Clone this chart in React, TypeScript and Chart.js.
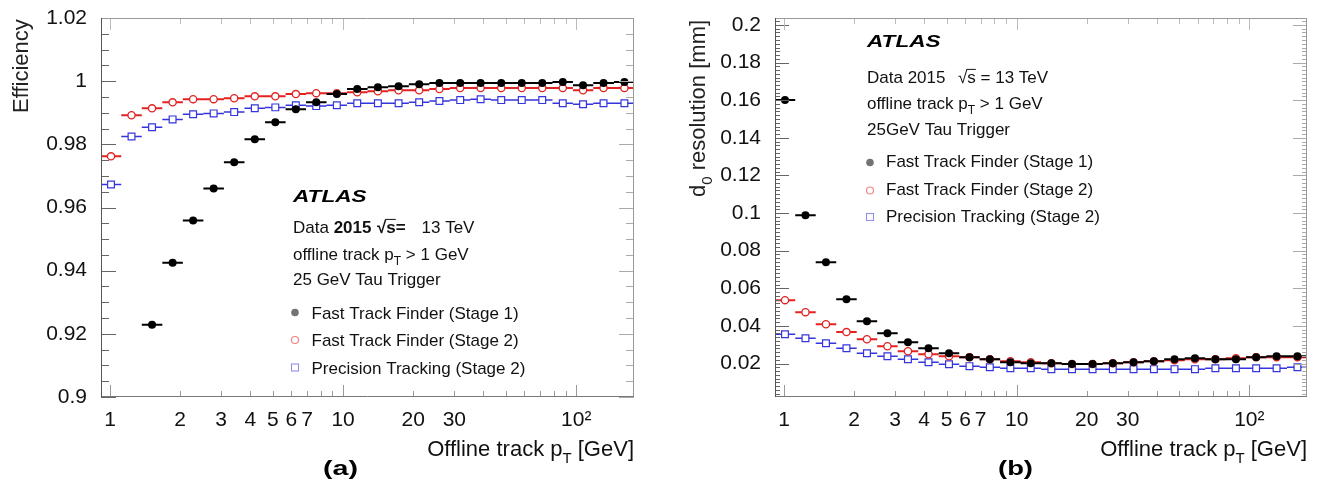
import React, { useEffect, useRef } from 'react';
import { Chart, registerables } from 'chart.js';

Chart.register(...registerables);

const FONT = '"Liberation Sans", Arial, Helvetica, sans-serif';

// Offline track pT bin centres [GeV]
const ptCenters = [1.01, 1.237, 1.515, 1.856, 2.273, 2.784, 3.41, 4.18, 5.12, 6.27, 7.67, 9.4, 11.5, 14.1, 17.3, 21.2, 25.9, 31.8, 38.9, 47.7, 58.4, 71.5, 87.6, 107, 131, 161];

// (a) efficiency
const effFTFStage1 = [null, null, 0.9229, 0.9425, 0.9559, 0.966, 0.9743, 0.9816, 0.987, 0.9911, 0.9933, 0.9959, 0.9975, 0.9981, 0.9984, 0.999, 0.9994, 0.9994, 0.9994, 0.9994, 0.9994, 0.9994, 0.9997, 0.9987, 0.9994, 0.9997];
const effFTFStage2 = [0.9762, 0.9892, 0.9914, 0.9933, 0.9943, 0.9943, 0.9946, 0.9952, 0.9952, 0.9959, 0.9962, 0.9962, 0.9965, 0.9968, 0.9971, 0.9971, 0.9975, 0.9978, 0.9978, 0.9978, 0.9978, 0.9978, 0.9978, 0.9971, 0.9978, 0.9978];
const effPrecision = [0.9673, 0.9825, 0.9854, 0.9879, 0.9895, 0.9898, 0.9902, 0.9914, 0.9917, 0.9924, 0.9921, 0.9924, 0.993, 0.993, 0.993, 0.9933, 0.9937, 0.994, 0.9943, 0.994, 0.994, 0.994, 0.993, 0.9927, 0.993, 0.993];

// (b) d0 resolution [mm]
const d0FTFStage1 = [0.1601, 0.0988, 0.0739, 0.0542, 0.0425, 0.0361, 0.0313, 0.0281, 0.0255, 0.0234, 0.0223, 0.0207, 0.0202, 0.0202, 0.0198, 0.0198, 0.0202, 0.0207, 0.0212, 0.0223, 0.0228, 0.0223, 0.0223, 0.0234, 0.0239, 0.0239];
const d0FTFStage2 = [0.0537, 0.0473, 0.0409, 0.0367, 0.0329, 0.0292, 0.0265, 0.0249, 0.0239, 0.0234, 0.0223, 0.0212, 0.0207, 0.0202, 0.0198, 0.0198, 0.0202, 0.0207, 0.0212, 0.0218, 0.0223, 0.0223, 0.0228, 0.0234, 0.0234, 0.0234];
const d0Precision = [0.0356, 0.0334, 0.0308, 0.0281, 0.0255, 0.0239, 0.0223, 0.0207, 0.0196, 0.0186, 0.018, 0.0175, 0.0175, 0.017, 0.017, 0.017, 0.017, 0.017, 0.017, 0.017, 0.017, 0.0175, 0.0175, 0.0175, 0.0175, 0.018];

const xTickValues = [1, 2, 3, 4, 5, 6, 7, 8, 9, 10, 20, 30, 40, 50, 60, 70, 80, 90, 100];
const xTickLabels: Record<string, string> = { '1': '1', '2': '2', '3': '3', '4': '4', '5': '5', '6': '6', '7': '7', '10': '10', '20': '20', '30': '30', '100': '10\u00B2' };
const effTickValues = [0.9, 0.92, 0.94, 0.96, 0.98, 1, 1.02];
const d0TickValues = [0.02, 0.04, 0.06, 0.08, 0.1, 0.12, 0.14, 0.16, 0.18, 0.2];
const legendLabels = ['Fast Track Finder (Stage 1)', 'Fast Track Finder (Stage 2)', 'Precision Tracking (Stage 2)'];

const BLACK = '#000000';
const RED = '#e32222';
const BLUE = '#3535dd';

type Seg = { t: string; sub?: boolean; bold?: boolean; italic?: boolean; over?: boolean };

function segFont(s: Seg, size: number) {
  const fs = s.sub ? Math.round(size * 0.68) : size;
  return `${s.italic ? 'italic ' : ''}${s.bold ? 'bold ' : ''}${fs}px ${FONT}`;
}
function measureRich(ctx: CanvasRenderingContext2D, segs: Seg[], size: number) {
  let w = 0;
  for (const s of segs) {
    ctx.font = segFont(s, size);
    w += ctx.measureText(s.t).width;
  }
  return w;
}
function drawRich(ctx: CanvasRenderingContext2D, x: number, y: number, segs: Seg[], size: number, color = '#111') {
  let cx = x;
  ctx.fillStyle = color;
  ctx.strokeStyle = color;
  ctx.textBaseline = 'alphabetic';
  ctx.textAlign = 'left';
  for (const s of segs) {
    ctx.font = segFont(s, size);
    const w = ctx.measureText(s.t).width;
    const dy = s.sub ? size * 0.3 : 0;
    ctx.fillText(s.t, cx, y + dy);
    if (s.over) {
      ctx.lineWidth = 1;
      ctx.beginPath();
      ctx.moveTo(cx - 1, y - size * 0.8);
      ctx.lineTo(cx + w, y - size * 0.8);
      ctx.stroke();
    }
    cx += w;
  }
  return cx - x;
}

function drawMarker(ctx: CanvasRenderingContext2D, kind: number, x: number, y: number, alpha = 1) {
  ctx.save();
  ctx.globalAlpha = alpha;
  if (kind === 0) {
    ctx.fillStyle = BLACK;
    ctx.beginPath();
    ctx.arc(x, y, 3.8, 0, Math.PI * 2);
    ctx.fill();
  } else if (kind === 1) {
    ctx.strokeStyle = RED;
    ctx.lineWidth = 1.2;
    ctx.beginPath();
    ctx.arc(x, y, 3.5, 0, Math.PI * 2);
    ctx.stroke();
  } else {
    ctx.strokeStyle = BLUE;
    ctx.lineWidth = 1.1;
    ctx.strokeRect(x - 3.5, y - 3.5, 7, 7);
  }
  ctx.restore();
}

type Line = { x: number; y: number; segs: Seg[] };
type DecorCfg = {
  series: { values: (number | null)[]; color: string; lw: number }[];
  yMajorStep: number;
  yMinorStep: number;
  yMajorLen: number;
  yMinorLen: number;
  yTitle: Seg[];
  yTitleX: number;
  yTitleBottom: number;
  xTitleBaseline: number;
  panel: string;
  panelX: number;
  atlasX: number;
  atlasBaseline: number;
  lines: Line[];
  legendMarkerX: number;
  legendTextX: number;
  legendBaselines: number[];
  legendMarkerYs: number[];
  legendAlpha: number;
};

function makeDecor(cfg: DecorCfg) {
  return {
    id: 'atlasDecor',
    beforeDatasetsDraw(chart: any) {
      const { ctx, chartArea: a, scales } = chart;
      const xs = scales.x;
      const ys = scales.y;
      const n = ptCenters.length;
      const edges: number[] = [];
      for (let i = 0; i <= n; i++) {
        if (i === 0) edges.push(ptCenters[0] / Math.sqrt(ptCenters[1] / ptCenters[0]));
        else if (i === n) edges.push(ptCenters[n - 1] * Math.sqrt(ptCenters[n - 1] / ptCenters[n - 2]));
        else edges.push(Math.sqrt(ptCenters[i - 1] * ptCenters[i]));
      }
      ctx.save();
      ctx.beginPath();
      ctx.rect(a.left, a.top, a.right - a.left, a.bottom - a.top);
      ctx.clip();
      const order = [...cfg.series].reverse();
      for (const s of order) {
        ctx.strokeStyle = s.color;
        ctx.lineWidth = s.lw;
        ctx.beginPath();
        s.values.forEach((v, i) => {
          if (v === null) return;
          const py = ys.getPixelForValue(v);
          ctx.moveTo(xs.getPixelForValue(edges[i]), py);
          ctx.lineTo(xs.getPixelForValue(edges[i + 1]), py);
        });
        ctx.stroke();
      }
      ctx.restore();
    },
    afterDatasetsDraw(chart: any) {
      const { ctx, chartArea: a, scales } = chart;
      const xs = scales.x;
      const ys = scales.y;
      ctx.save();
      // y ticks
      const kMin = Math.ceil(ys.min / cfg.yMinorStep - 1e-6);
      const kMax = Math.floor(ys.max / cfg.yMinorStep + 1e-6);
      for (let k = kMin; k <= kMax; k++) {
        const v = k * cfg.yMinorStep;
        const r = v / cfg.yMajorStep;
        const major = Math.abs(r - Math.round(r)) < 1e-6;
        const len = major ? cfg.yMajorLen : cfg.yMinorLen;
        const py = Math.round(ys.getPixelForValue(v)) + 0.5;
        ctx.lineWidth = 1;
        ctx.strokeStyle = '#666';
        ctx.beginPath();
        ctx.moveTo(a.left, py);
        ctx.lineTo(a.left + len, py);
        ctx.stroke();
        ctx.strokeStyle = '#aaa';
        ctx.beginPath();
        ctx.moveTo(a.right, py);
        ctx.lineTo(a.right - len, py);
        ctx.stroke();
      }
      // x ticks
      for (const d of [1, 10, 100]) {
        for (let m = 1; m <= 9; m++) {
          const v = m * d;
          if (v < xs.min || v > xs.max) continue;
          const len = m === 1 ? 12 : 6;
          const px = Math.round(xs.getPixelForValue(v)) + 0.5;
          ctx.strokeStyle = '#999';
          ctx.beginPath();
          ctx.moveTo(px, a.bottom);
          ctx.lineTo(px, a.bottom - len);
          ctx.stroke();
          ctx.strokeStyle = '#bbb';
          ctx.beginPath();
          ctx.moveTo(px, a.top);
          ctx.lineTo(px, a.top + len);
          ctx.stroke();
        }
      }
      // frame
      ctx.strokeStyle = '#999';
      ctx.beginPath();
      ctx.moveTo(a.left, a.top + 0.5);
      ctx.lineTo(a.right, a.top + 0.5);
      ctx.moveTo(a.right - 0.5, a.top);
      ctx.lineTo(a.right - 0.5, a.bottom);
      ctx.stroke();
      ctx.strokeStyle = '#777';
      ctx.beginPath();
      ctx.moveTo(a.left, a.bottom - 0.5);
      ctx.lineTo(a.right, a.bottom - 0.5);
      ctx.stroke();
      ctx.strokeStyle = '#555';
      ctx.beginPath();
      ctx.moveTo(a.left + 0.5, a.top);
      ctx.lineTo(a.left + 0.5, a.bottom);
      ctx.stroke();
      ctx.restore();
    },
    afterDraw(chart: any) {
      const { ctx, chartArea: a } = chart;
      ctx.save();
      // x-axis title (right aligned)
      const xTitle: Seg[] = [{ t: 'Offline track p' }, { t: 'T', sub: true }, { t: ' [GeV]' }];
      const wx = measureRich(ctx, xTitle, 22);
      drawRich(ctx, a.right - wx, cfg.xTitleBaseline, xTitle, 22, '#111');
      // y-axis title (rotated, end aligned at top)
      ctx.save();
      ctx.translate(cfg.yTitleX, cfg.yTitleBottom);
      ctx.rotate(-Math.PI / 2);
      drawRich(ctx, 0, 0, cfg.yTitle, 22, '#222');
      ctx.restore();
      // ATLAS label
      ctx.save();
      ctx.font = `italic bold 17px ${FONT}`;
      const wa = ctx.measureText('ATLAS').width;
      ctx.translate(cfg.atlasX, cfg.atlasBaseline);
      ctx.scale(73.5 / wa, 1);
      ctx.fillStyle = '#000';
      ctx.textBaseline = 'alphabetic';
      ctx.fillText('ATLAS', 0, 0);
      ctx.restore();
      // info lines
      for (const l of cfg.lines) drawRich(ctx, l.x, l.y, l.segs, 17, '#111');
      // legend
      legendLabels.forEach((lab, i) => {
        drawMarker(ctx, i, cfg.legendMarkerX, cfg.legendMarkerYs[i], cfg.legendAlpha);
        drawRich(ctx, cfg.legendTextX, cfg.legendBaselines[i], [{ t: lab }], 17, '#111');
      });
      // panel label
      ctx.save();
      ctx.font = `bold 21px ${FONT}`;
      const wp = ctx.measureText(cfg.panel).width;
      ctx.translate(cfg.panelX, 475);
      ctx.scale(35 / wp, 1);
      ctx.fillStyle = '#000';
      ctx.textBaseline = 'alphabetic';
      ctx.fillText(cfg.panel, 0, 0);
      ctx.restore();
      ctx.restore();
    },
  };
}

function pointsOf(values: (number | null)[]) {
  return ptCenters
    .map((x, i) => ({ x, y: values[i] }))
    .filter((p) => p.y !== null) as { x: number; y: number }[];
}

function fmtTick(v: number) {
  return String(Number(v.toFixed(3)));
}

function buildConfig(
  s1: (number | null)[],
  s2: (number | null)[],
  s3: (number | null)[],
  yMin: number,
  yMax: number,
  yTicks: number[],
  yWidth: number,
  rightPad: number,
  decor: DecorCfg
): any {
  return {
    type: 'scatter',
    data: {
      datasets: [
        {
          label: legendLabels[0],
          data: pointsOf(s1),
          pointStyle: 'circle',
          pointRadius: 4,
          pointBackgroundColor: BLACK,
          pointBorderColor: BLACK,
          pointBorderWidth: 0,
          showLine: false,
        },
        {
          label: legendLabels[1],
          data: pointsOf(s2),
          pointStyle: 'circle',
          pointRadius: 3.6,
          pointBackgroundColor: '#ffffff',
          pointBorderColor: RED,
          pointBorderWidth: 1.3,
          showLine: false,
        },
        {
          label: legendLabels[2],
          data: pointsOf(s3),
          pointStyle: 'rect',
          pointRadius: 4.8,
          pointBackgroundColor: '#ffffff',
          pointBorderColor: BLUE,
          pointBorderWidth: 1.2,
          showLine: false,
        },
      ],
    },
    options: {
      animation: false,
      responsive: false,
      maintainAspectRatio: false,
      events: [],
      layout: { padding: { left: 0, right: rightPad, top: 18, bottom: 0 } },
      plugins: { legend: { display: false }, tooltip: { enabled: false } },
      scales: {
        x: {
          type: 'logarithmic',
          min: 0.915,
          max: 177,
          afterBuildTicks: (s: any) => {
            s.ticks = xTickValues.map((v) => ({ value: v }));
          },
          afterFit: (s: any) => {
            s.height = 91;
            s.paddingLeft = 0;
            s.paddingRight = 0;
          },
          ticks: {
            autoSkip: false,
            maxRotation: 0,
            minRotation: 0,
            padding: 11,
            color: '#111',
            font: { family: FONT, size: 21 },
            callback: (v: any) => xTickLabels[String(v)] ?? '',
          },
          grid: { display: false, drawTicks: false },
          border: { display: false },
        },
        y: {
          type: 'linear',
          min: yMin,
          max: yMax,
          afterBuildTicks: (s: any) => {
            s.ticks = yTicks.map((v) => ({ value: v }));
          },
          afterFit: (s: any) => {
            s.width = yWidth;
            s.paddingTop = 0;
            s.paddingBottom = 0;
          },
          ticks: {
            padding: 14,
            color: '#111',
            font: { family: FONT, size: 21 },
            callback: (v: any) => fmtTick(Number(v)),
          },
          grid: { display: false, drawTicks: false },
          border: { display: false },
        },
      },
    },
    plugins: [makeDecor(decor)],
  };
}

const leftDecor: DecorCfg = {
  series: [
    { values: effFTFStage1, color: BLACK, lw: 2 },
    { values: effFTFStage2, color: RED, lw: 2 },
    { values: effPrecision, color: BLUE, lw: 1.5 },
  ],
  yMajorStep: 0.02,
  yMinorStep: 0.005,
  yMajorLen: 15,
  yMinorLen: 8,
  yTitle: [{ t: 'Efficiency' }],
  yTitleX: 28,
  yTitleBottom: 113,
  xTitleBaseline: 456,
  panel: '(a)',
  panelX: 323,
  atlasX: 293,
  atlasBaseline: 202,
  lines: [
    { x: 293, y: 233, segs: [{ t: 'Data ' }, { t: '2015', bold: true }] },
    { x: 377, y: 233, segs: [{ t: '\u221A', bold: true }, { t: 's', bold: true, over: true }, { t: '=', bold: true }] },
    { x: 421.5, y: 233, segs: [{ t: '13 TeV' }] },
    { x: 293, y: 260, segs: [{ t: 'offline track p' }, { t: 'T', sub: true }, { t: ' > 1 GeV' }] },
    { x: 293, y: 285, segs: [{ t: '25 GeV Tau Trigger' }] },
  ],
  legendMarkerX: 295,
  legendTextX: 311.5,
  legendBaselines: [319, 346, 374],
  legendMarkerYs: [312.5, 340, 367.5],
  legendAlpha: 0.55,
};

const rightDecor: DecorCfg = {
  series: [
    { values: d0FTFStage1, color: BLACK, lw: 2 },
    { values: d0FTFStage2, color: RED, lw: 2 },
    { values: d0Precision, color: BLUE, lw: 1.5 },
  ],
  yMajorStep: 0.02,
  yMinorStep: 0.002,
  yMajorLen: 14,
  yMinorLen: 5,
  yTitle: [{ t: 'd' }, { t: '0', sub: true }, { t: ' resolution [mm]' }],
  yTitleX: 43,
  yTitleBottom: 197,
  xTitleBaseline: 456,
  panel: '(b)',
  panelX: 336,
  atlasX: 205,
  atlasBaseline: 47,
  lines: [
    { x: 205, y: 83, segs: [{ t: 'Data 2015' }] },
    { x: 296, y: 83, segs: [{ t: '\u221A' }, { t: 's', over: true }, { t: ' = 13 TeV' }] },
    { x: 205, y: 109, segs: [{ t: 'offline track p' }, { t: 'T', sub: true }, { t: ' > 1 GeV' }] },
    { x: 205, y: 135, segs: [{ t: '25GeV Tau Trigger' }] },
  ],
  legendMarkerX: 208,
  legendTextX: 224,
  legendBaselines: [167, 195, 222],
  legendMarkerYs: [162.5, 190.5, 217],
  legendAlpha: 0.55,
};

export default function App() {
  const leftRef = useRef<HTMLCanvasElement | null>(null);
  const rightRef = useRef<HTMLCanvasElement | null>(null);

  useEffect(() => {
    if (!leftRef.current || !rightRef.current) return;
    const c1 = new Chart(
      leftRef.current,
      buildConfig(effFTFStage1, effFTFStage2, effPrecision, 0.9, 1.02, effTickValues, 101, 28, leftDecor)
    );
    const c2 = new Chart(
      rightRef.current,
      buildConfig(d0FTFStage1, d0FTFStage2, d0Precision, 0.0022, 0.2037, d0TickValues, 113, 17, rightDecor)
    );
    return () => {
      c1.destroy();
      c2.destroy();
    };
  }, []);

  return (
    <div style={{ position: 'fixed', left: 0, top: 0, width: 1324, height: 488, background: '#fff', display: 'flex' }}>
      <canvas ref={leftRef} width={662} height={488} style={{ width: 662, height: 488, display: 'block' }} />
      <canvas ref={rightRef} width={662} height={488} style={{ width: 662, height: 488, display: 'block' }} />
    </div>
  );
}
